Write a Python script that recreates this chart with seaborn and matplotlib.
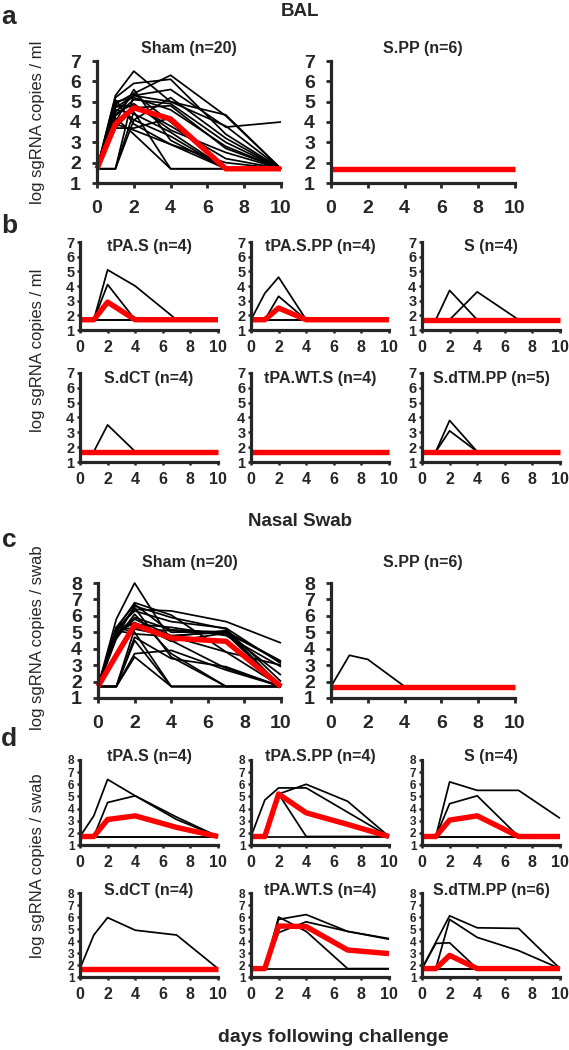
import numpy as np
import pandas as pd
import matplotlib
matplotlib.use("Agg")
import matplotlib.pyplot as plt
import seaborn as sns

sns.set_style("ticks")
plt.rcParams["font.family"] = ["Liberation Sans", "DejaVu Sans"]
plt.rcParams["lines.solid_capstyle"] = "butt"

# ---------------- data ----------------
days = [0, 1, 2, 4, 7, 10]
L = 1.7  # limit of detection
lod = [L, L, L, L, L, L]

# BAL
bal_sham = [
    [L, 5.3, 6.5, 5.0, 3.8, L],
    [L, 5.2, 5.9, 6.1, 3.4, L],
    [L, 4.9, 5.4, 6.3, 4.3, L],
    [L, 4.7, 5.3, 5.6, 3.75, 4.0],
    [L, 4.5, 5.3, 5.0, 4.35, L],
    [L, 4.3, 5.1, 4.9, 3.0, L],
    [L, 3.7, 4.7, 4.8, 2.7, L],
    [L, 3.7, 3.7, 4.2, L, L],
    [L, L, 5.4, 4.0, L, L],
    [L, L, 4.5, L, L, L],
    [L, 4.9, 4.1, 3.3, L, L],
    [L, 5.1, 3.9, 2.9, 2.0, L],
    [L, 4.4, 4.9, 3.6, 2.5, L],
    [L, 4.0, 5.6, 3.1, L, L],
    [L, 4.6, 4.4, 3.5, L, L],
    [L, 3.9, 3.6, 2.9, L, L],
    [L, L, 4.1, 5.2, 3.2, L],
    [L, 5.0, 5.2, 4.6, 2.8, L],
    [L, 4.2, 3.4, L, L, L],
    [L, 4.8, 4.8, 3.8, 2.2, L],
]
bal_sham_med = [L, 3.9, 4.7, 4.15, L, L]
bal_spp = [lod] * 6
bal_spp_med = lod

bal_tpas = [[L, L, 5.1, 4.0, L, L], [L, L, 4.1, L, L, L], lod, lod]
bal_tpas_med = [L, L, 2.9, L, L, L]
bal_tpaspp = [[L, 3.5, 4.6, L, L, L], [L, L, 3.3, L, L, L], lod, lod]
bal_tpaspp_med = [L, L, 2.5, L, L, L]
bal_s = [[L, L, 3.7, L, L, L], [L, L, L, 3.6, L, L], lod, lod]
bal_s_med = lod
bal_sdct = [[L, L, 3.5, L, L, L], lod, lod, lod]
bal_sdct_med = lod
bal_tpawts = [lod, lod, lod, lod]
bal_tpawts_med = lod
bal_sdtmpp = [[L, L, 3.8, L, L, L], [L, L, 3.1, L, L, L], lod, lod, lod]
bal_sdtmpp_med = lod

# Nasal swab
ns_sham = [
    [L, 5.8, 8.0, 4.5, 2.8, L],
    [L, 5.2, 6.8, 6.05, 3.8, 3.0],
    [L, 5.3, 6.7, 5.0, 5.05, 3.25],
    [L, 5.1, 6.4, 6.3, 5.65, 4.35],
    [L, 5.2, 6.3, 5.65, 5.25, 3.1],
    [L, 4.9, 5.9, 5.15, 5.0, L],
    [L, 5.0, 5.6, 4.45, 4.95, 2.4],
    [L, L, 5.2, 4.75, 5.1, L],
    [L, L, 4.7, 3.4, 2.9, L],
    [L, L, 3.7, 3.9, 2.7, L],
    [L, L, 3.5, L, L, L],
    [L, 5.3, 5.0, L, L, L],
    [L, 4.6, 6.1, 3.7, L, L],
    [L, 5.1, 4.9, 4.75, 3.8, L],
    [L, 5.2, 5.5, 5.3, 4.8, 2.9],
    [L, 5.0, 6.5, 3.5, L, L],
    [L, 4.8, 5.8, 4.8, 5.0, 3.2],
    [L, L, 4.5, L, L, L],
    [L, 5.3, 5.2, 5.1, 4.9, L],
    [L, 4.7, 6.6, 5.9, 5.2, 2.0],
]
ns_sham_med = [L, 3.6, 5.45, 4.65, 4.45, L]
ns_spp = [[L, 3.6, 3.35, L, L, L], lod, lod, lod, lod, lod]
ns_spp_med = lod

ns_tpas = [[L, 3.4, 6.4, 5.05, 3.3, L], [L, L, 4.5, 5.05, 3.1, L], lod, lod]
ns_tpas_med = [L, L, 3.1, 3.4, 2.45, L]
ns_tpaspp = [[L, 4.7, 5.7, 5.7, 3.7, L], [L, L, 5.2, 6.0, 4.6, L],
             [L, L, 5.2, L, L, L], lod]
ns_tpaspp_med = [L, L, 5.2, 3.65, 2.7, L]
ns_s = [[L, L, 6.2, 5.5, 5.5, 3.2], [L, L, 4.4, 5.05, L, L], lod, lod]
ns_s_med = [L, L, 3.05, 3.4, L, L]
ns_sdct = [[L, 4.5, 5.95, 4.9, 4.5, L], lod, lod, lod]
ns_sdct_med = lod
ns_tpawts = [[L, L, 5.8, 6.2, 4.8, 4.2], [L, L, 4.7, 5.6, 4.8, 4.15],
             [L, L, 6.0, 4.8, L, L], lod]
ns_tpawts_med = [L, L, 5.25, 5.2, 3.25, 2.95]
ns_sdtmpp = [[L, 3.9, 6.1, 5.1, 5.05, L], [L, L, 5.8, 4.3, 3.2, L],
             [L, 3.8, 3.85, L, L, L], lod, lod, lod]
ns_sdtmpp_med = [L, L, 2.8, L, L, L]

x_ticks = [0, 2, 4, 6, 8, 10]

# ---------------- figure ----------------
W, H = 569, 1050
fig = plt.figure(figsize=(W / 100, H / 100), dpi=100)


def add_ax(x0, x1, ytop, ybot):
    return fig.add_axes([x0 / W, 1 - ybot / H, (x1 - x0) / W, (ybot - ytop) / H])


def panel(ax, lines, med, title, ymax, size, title_y):
    rows = []
    for i, ln in enumerate(lines):
        for d, v in zip(days, ln):
            rows.append((i, d, v))
    df = pd.DataFrame(rows, columns=["animal", "day", "value"])
    sns.lineplot(data=df, x="day", y="value", units="animal", estimator=None,
                 color="black", lw=1.25, ax=ax, legend=False)
    sns.lineplot(x=days, y=med, color="#ff0000", lw=3.9, ax=ax)
    for ln in ax.lines:
        ln.set_clip_on(False)
    ax.set_xlim(0, 10)
    ax.set_ylim(1, ymax)
    ax.set_xticks(x_ticks)
    ax.set_yticks(list(range(1, ymax + 1)))
    ax.set_xlabel("")
    ax.set_ylabel("")
    sns.despine(ax=ax)
    for s in ("left", "bottom"):
        ax.spines[s].set_linewidth(2.3)
    if size == "big":
        ax.tick_params(axis="x", length=3.5, width=2.0, labelsize=14, pad=8.5)
        ax.tick_params(axis="y", length=3.5, width=2.0, labelsize=14, pad=8.0)
    else:
        ysz = 10.5 if size == "b" else 8.5
        ax.tick_params(axis="x", length=2.5, width=1.8, labelsize=11.5, pad=4.5)
        ax.tick_params(axis="y", length=2.5, width=1.8, labelsize=ysz, pad=1.5)
    for lab in ax.get_xticklabels() + ax.get_yticklabels():
        lab.set_fontweight("bold")
    bb = ax.get_position()
    fig.text((bb.x0 + bb.x1) / 2, 1 - title_y / H, title, ha="center",
             va="center", fontsize=11.5, fontweight="bold")


cols_small = [(80, 218), (251, 389), (422, 560)]

# a
panel(add_ax(97, 281, 61, 183), bal_sham, bal_sham_med, "Sham (n=20)", 7, "big", 48)
panel(add_ax(331, 515, 61, 183), bal_spp, bal_spp_med, "S.PP (n=6)", 7, "big", 48)

# b
b_row1 = [(bal_tpas, bal_tpas_med, "tPA.S (n=4)"),
          (bal_tpaspp, bal_tpaspp_med, "tPA.S.PP (n=4)"),
          (bal_s, bal_s_med, "S (n=4)")]
b_row2 = [(bal_sdct, bal_sdct_med, "S.dCT (n=4)"),
          (bal_tpawts, bal_tpawts_med, "tPA.WT.S (n=4)"),
          (bal_sdtmpp, bal_sdtmpp_med, "S.dTM.PP (n=5)")]
for (x0, x1), (ls, md, t) in zip(cols_small, b_row1):
    panel(add_ax(x0, x1, 242, 330), ls, md, t, 7, "b", 247)
for (x0, x1), (ls, md, t) in zip(cols_small, b_row2):
    panel(add_ax(x0, x1, 373, 462), ls, md, t, 7, "b", 378)

# c
panel(add_ax(98, 281, 583, 698), ns_sham, ns_sham_med, "Sham (n=20)", 8, "big", 563)
panel(add_ax(331, 515, 583, 698), ns_spp, ns_spp_med, "S.PP (n=6)", 8, "big", 563)

# d
d_row1 = [(ns_tpas, ns_tpas_med, "tPA.S (n=4)"),
          (ns_tpaspp, ns_tpaspp_med, "tPA.S.PP (n=4)"),
          (ns_s, ns_s_med, "S (n=4)")]
d_row2 = [(ns_sdct, ns_sdct_med, "S.dCT (n=4)"),
          (ns_tpawts, ns_tpawts_med, "tPA.WT.S (n=4)"),
          (ns_sdtmpp, ns_sdtmpp_med, "S.dTM.PP (n=6)")]
for (x0, x1), (ls, md, t) in zip(cols_small, d_row1):
    panel(add_ax(x0, x1, 760, 845), ls, md, t, 8, "d", 757)
for (x0, x1), (ls, md, t) in zip(cols_small, d_row2):
    panel(add_ax(x0, x1, 893, 977), ls, md, t, 8, "d", 890)

# labels
def ftext(x, y, s, **kw):
    fig.text(x / W, 1 - y / H, s, ha="center", va="center", **kw)

ftext(9, 17, "a", fontsize=19, fontweight="bold")
ftext(9, 226, "b", fontsize=19, fontweight="bold")
ftext(9, 540, "c", fontsize=19, fontweight="bold")
ftext(9, 739, "d", fontsize=19, fontweight="bold")
ftext(300, 12, "BAL", fontsize=13.5, fontweight="bold")
ftext(300, 522, "Nasal Swab", fontsize=13.5, fontweight="bold")
ftext(38, 122, "log sgRNA copies / ml", fontsize=12, rotation=90)
ftext(38, 350, "log sgRNA copies / ml", fontsize=12, rotation=90)
ftext(38, 638, "log sgRNA copies / swab", fontsize=12, rotation=90)
ftext(38, 866, "log sgRNA copies / swab", fontsize=12, rotation=90)
ftext(333, 1037, "days following challenge", fontsize=14, fontweight="bold")

fig.savefig("out.png", dpi=100)
